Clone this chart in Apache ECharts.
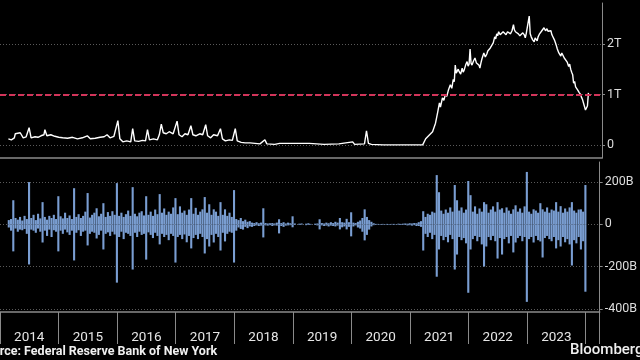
<!DOCTYPE html>
<html><head><meta charset="utf-8">
<script src="https://cdn.jsdelivr.net/npm/echarts@6/dist/echarts.min.js"></script>
<style>html,body{margin:0;padding:0;background:#000;}#c{width:640px;height:360px;}</style>
</head><body><div id="c"></div><script>
// Reverse repo facility usage, trillions USD: [decimal year, value]
const rrpUsage = [[2014.143,0.12],[2014.193,0.10],[2014.244,0.14],[2014.260,0.22],[2014.344,0.24],[2014.395,0.14],[2014.445,0.16],[2014.495,0.34],[2014.529,0.14],[2014.596,0.16],[2014.646,0.15],[2014.697,0.18],[2014.747,0.20],[2014.764,0.30],[2014.797,0.18],[2014.864,0.20],[2014.932,0.17],[2014.999,0.15],[2015.066,0.14],[2015.150,0.13],[2015.234,0.15],[2015.318,0.12],[2015.401,0.14],[2015.485,0.18],[2015.536,0.12],[2015.620,0.13],[2015.703,0.15],[2015.771,0.16],[2015.821,0.20],[2015.871,0.14],[2015.938,0.17],[2016.005,0.48],[2016.039,0.12],[2016.089,0.06],[2016.156,0.08],[2016.224,0.06],[2016.257,0.32],[2016.291,0.08],[2016.358,0.07],[2016.425,0.09],[2016.475,0.08],[2016.509,0.30],[2016.542,0.10],[2016.610,0.12],[2016.677,0.10],[2016.710,0.20],[2016.744,0.41],[2016.777,0.24],[2016.828,0.22],[2016.878,0.26],[2016.945,0.22],[2017.012,0.47],[2017.046,0.20],[2017.096,0.16],[2017.146,0.22],[2017.197,0.20],[2017.247,0.38],[2017.281,0.20],[2017.331,0.18],[2017.398,0.22],[2017.448,0.20],[2017.499,0.40],[2017.532,0.18],[2017.583,0.14],[2017.633,0.20],[2017.700,0.18],[2017.750,0.32],[2017.784,0.12],[2017.834,0.08],[2017.901,0.10],[2017.952,0.09],[2018.002,0.32],[2018.036,0.08],[2018.103,0.05],[2018.170,0.04],[2018.254,0.04],[2018.338,0.03],[2018.422,0.02],[2018.506,0.10],[2018.539,0.02],[2018.673,0.01],[2018.757,0.03],[2018.791,0.01],[2019.009,0.03],[2019.042,0.01],[2019.261,0.03],[2019.294,0.01],[2019.512,0.01],[2019.764,0.02],[2019.999,0.06],[2020.032,0.01],[2020.200,0.02],[2020.234,0.28],[2020.267,0.03],[2020.318,0.01],[2020.519,0.00],[2020.855,0.00],[2021.190,0.00],[2021.224,0.02],[2021.241,0.12],[2021.291,0.18],[2021.358,0.26],[2021.408,0.43],[2021.442,0.63],[2021.475,0.83],[2021.492,0.75],[2021.526,0.93],[2021.550,0.88],[2021.576,1.00],[2021.600,0.96],[2021.626,1.08],[2021.643,1.05],[2021.660,1.19],[2021.685,1.12],[2021.710,1.30],[2021.727,1.25],[2021.744,1.58],[2021.760,1.42],[2021.777,1.39],[2021.794,1.50],[2021.811,1.45],[2021.836,1.40],[2021.861,1.52],[2021.878,1.44],[2021.895,1.48],[2021.920,1.58],[2021.945,1.65],[2021.962,1.56],[2021.979,1.60],[2021.996,1.90],[2022.012,1.62],[2022.029,1.58],[2022.054,1.66],[2022.079,1.72],[2022.105,1.62],[2022.130,1.65],[2022.147,1.58],[2022.163,1.52],[2022.180,1.62],[2022.197,1.70],[2022.213,1.76],[2022.230,1.82],[2022.255,1.74],[2022.281,1.80],[2022.297,1.86],[2022.314,1.88],[2022.340,1.92],[2022.365,1.94],[2022.390,2.02],[2022.415,2.14],[2022.432,2.10],[2022.449,2.20],[2022.465,2.16],[2022.482,2.24],[2022.508,2.18],[2022.533,2.20],[2022.558,2.24],[2022.583,2.21],[2022.608,2.18],[2022.633,2.24],[2022.658,2.22],[2022.684,2.20],[2022.709,2.26],[2022.734,2.38],[2022.750,2.28],[2022.767,2.24],[2022.792,2.26],[2022.818,2.20],[2022.843,2.16],[2022.868,2.14],[2022.893,2.22],[2022.918,2.18],[2022.935,2.12],[2022.952,2.21],[2022.977,2.24],[2023.002,2.55],[2023.019,2.20],[2023.036,2.14],[2023.061,2.08],[2023.086,2.04],[2023.103,2.12],[2023.120,2.10],[2023.137,2.06],[2023.153,2.14],[2023.178,2.20],[2023.204,2.24],[2023.229,2.28],[2023.254,2.32],[2023.279,2.26],[2023.304,2.30],[2023.321,2.25],[2023.338,2.28],[2023.355,2.22],[2023.371,2.26],[2023.388,2.18],[2023.405,2.20],[2023.430,2.08],[2023.455,2.00],[2023.480,1.90],[2023.506,1.82],[2023.522,1.80],[2023.539,1.76],[2023.556,1.82],[2023.573,1.78],[2023.598,1.72],[2023.623,1.75],[2023.648,1.64],[2023.673,1.55],[2023.690,1.60],[2023.707,1.50],[2023.724,1.44],[2023.741,1.39],[2023.757,1.22],[2023.774,1.26],[2023.791,1.15],[2023.808,1.12],[2023.825,1.09],[2023.850,1.04],[2023.875,1.00],[2023.892,0.94],[2023.908,0.90],[2023.925,0.83],[2023.942,0.76],[2023.959,0.69],[2023.976,0.72],[2023.992,0.77],[2024.009,1.03]];

// Changes, billions USD, sampled on a regular grid starting at changeStart every changeStep years
const changeStart = 2014.15;
const changeStep = 1 / 26;
const changeUp = [20,25,114,30,22,35,18,40,25,200,
30,45,20,50,28,105,35,22,40,30,
45,25,133,38,28,55,30,42,25,171,
35,48,30,40,60,148,32,45,55,76,
38,50,100,35,58,40,62,45,195,40,
55,35,48,65,40,176,50,38,55,62,
42,133,45,60,40,70,48,143,55,75,
45,60,50,80,124,48,85,55,65,45,
70,124,50,78,45,60,71,129,55,95,
45,71,60,40,105,45,71,40,55,35,
162,25,20,30,15,22,12,15,8,6,
10,5,8,76,6,4,5,6,4,8,
24,6,10,4,8,5,38,4,0,3,
4,0,3,5,2,0,3,4,24,6,
4,8,5,10,6,12,8,30,10,8,
26,10,57,8,6,12,18,30,71,35,
20,12,5,2,2,1,2,1,2,1,
2,2,1,3,2,3,4,3,5,4,
6,5,10,15,62,35,50,45,60,55,
233,152,65,50,70,55,80,60,186,114,
65,80,55,70,205,138,60,85,50,75,
60,105,95,55,70,85,60,105,70,76,
55,80,65,50,71,90,60,75,55,85,
248,60,50,71,65,55,100,71,60,80,
55,70,65,105,60,86,55,75,60,80,
105,65,55,70,71,60,186];
const changeDown = [-15,-30,-128,-20,-35,-25,-28,-22,-45,-190,
-25,-30,-40,-20,-35,-86,-30,-55,-25,-60,
-28,-35,-128,-30,-45,-25,-38,-50,-30,-171,
-40,-28,-55,-35,-30,-100,-45,-35,-40,-67,
-50,-30,-119,-45,-38,-55,-35,-48,-276,-60,
-35,-70,-40,-45,-55,-214,-40,-60,-35,-50,
-45,-167,-38,-50,-65,-40,-55,-95,-45,-60,
-50,-75,-45,-55,-181,-60,-50,-70,-48,-85,
-55,-114,-65,-50,-70,-45,-60,-138,-70,-105,
-50,-86,-45,-60,-124,-40,-81,-45,-35,-40,
-181,-30,-15,-22,-25,-12,-18,-10,-12,-8,
-5,-8,-6,-62,-5,-6,-4,-8,-5,-6,
-43,-8,-12,-6,-5,-4,-14,-3,0,-3,
-2,0,-4,-3,-2,0,-3,-5,-24,-5,
-8,-6,-10,-6,-8,-10,-6,-24,-14,-10,
-24,-12,-57,-10,-5,-15,-20,-35,-76,-50,
-25,-10,-4,-2,-1,-2,-2,-1,-2,-2,
-1,-2,-1,-2,-3,-2,-3,-5,-4,-6,
-4,-8,-8,-12,-124,-45,-60,-40,-70,-50,
-248,-119,-55,-75,-60,-85,-50,-70,-214,-143,
-60,-75,-65,-90,-324,-119,-70,-55,-80,-60,
-95,-200,-105,-60,-75,-55,-80,-162,-65,-143,
-70,-60,-90,-55,-133,-86,-65,-55,-80,-60,
-367,-70,-60,-86,-55,-75,-81,-157,-65,-55,
-70,-80,-60,-114,-75,-105,-60,-85,-70,-95,
-195,-75,-90,-60,-119,-80,-319];

const yearLabels = ['2014','2015','2016','2017','2018','2019','2020','2021','2022','2023'];
const topTicks = [0, 1, 2];
const topTickLabels = ['0', '1T', '2T'];
const bottomTicks = [-400, -200, 0, 200];
const bottomTickLabels = ['-400B', '-200B', '0', '200B'];
const thresholdLine = 1;

const upData = changeUp.map((v, i) => [changeStart + i * changeStep, v]);
const downData = changeDown.map((v, i) => [changeStart + i * changeStep, v]);
const yearCenters = yearLabels.map(y => Number(y) + 0.5);

const FONT = 'Roboto, "Liberation Sans", sans-serif';
const axisGray = '#8a8a8a';
const barBlue = '#7a9ed2';
const chart = echarts.init(document.getElementById('c'), null, {renderer: 'canvas'});
chart.setOption({
  backgroundColor: '#000',
  animation: false,
  textStyle: {fontFamily: FONT},
  grid: [
    {left: -8.5, right: 38, top: 3, height: 155},
    {left: -8.5, right: 38, top: 162, height: 150}
  ],
  xAxis: [
    {gridIndex: 0, type: 'value', min: 2014, max: 2024.24, interval: 1,
     axisLine: {show: true, onZero: false, lineStyle: {color: axisGray, width: 1.5}},
     axisTick: {show: false}, axisLabel: {show: false}, splitLine: {show: false}},
    {gridIndex: 1, type: 'value', min: 2014, max: 2024.24, interval: 1,
     axisLine: {show: true, onZero: false, lineStyle: {color: axisGray, width: 1.5}},
     axisTick: {show: true, length: 32, lineStyle: {color: axisGray, width: 1}},
     axisLabel: {customValues: yearCenters, color: '#e6e6e6', fontSize: 13.5, margin: 19, fontFamily: FONT,
       formatter: v => yearLabels[Math.floor(v) - 2014]},
     splitLine: {show: false}}
  ],
  yAxis: [
    {gridIndex: 0, type: 'value', position: 'right', min: -0.26, max: 2.81,
     axisLine: {show: true, lineStyle: {color: axisGray, width: 1}},
     axisTick: {show: true, length: 3, customValues: topTicks, lineStyle: {color: axisGray}},
     axisLabel: {customValues: topTicks, color: '#dddddd', fontSize: 12.5, margin: 5, fontFamily: FONT,
       formatter: v => topTickLabels[topTicks.indexOf(v)]},
     splitLine: {show: true, lineStyle: {color: '#5a5a5a', type: [1, 2], width: 1}}},
    {gridIndex: 1, type: 'value', position: 'right', min: -415, max: 295,
     axisLine: {show: true, lineStyle: {color: axisGray, width: 1}},
     axisTick: {show: true, length: 3, customValues: bottomTicks, lineStyle: {color: axisGray}},
     axisLabel: {customValues: bottomTicks, color: '#dddddd', fontSize: 12.5, margin: 5, fontFamily: FONT,
       formatter: v => bottomTickLabels[bottomTicks.indexOf(v)]},
     splitLine: {show: true, lineStyle: {color: '#5a5a5a', type: [1, 2], width: 1}}}
  ],
  series: [
    {type: 'line', xAxisIndex: 0, yAxisIndex: 0, data: rrpUsage, showSymbol: false,
     lineStyle: {color: '#ffffff', width: 1.4}, z: 3,
     markLine: {silent: true, symbol: 'none', label: {show: false},
       lineStyle: {color: '#d3345a', type: [6, 3], width: 2},
       data: [{yAxis: thresholdLine}]}},
    {type: 'bar', xAxisIndex: 1, yAxisIndex: 1, data: upData, stack: 'chg', barWidth: 2.1,
     itemStyle: {color: barBlue}},
    {type: 'bar', xAxisIndex: 1, yAxisIndex: 1, data: downData, stack: 'chg', barWidth: 2.1,
     itemStyle: {color: barBlue}}
  ],
  graphic: [
    {type: 'text', left: -22, top: 345, style: {text: 'Source: Federal Reserve Bank of New York', fill: '#f0f0f0', font: 'bold 12.5px ' + FONT}},
    {type: 'text', left: 570, top: 343, style: {text: 'Bloomberg', fill: '#f0f0f0', font: '500 15px ' + FONT}}
  ]
});
</script></body></html>
